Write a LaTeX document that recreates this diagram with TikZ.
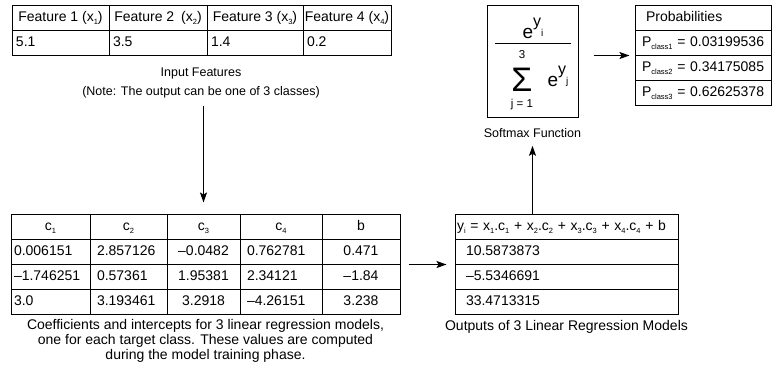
\documentclass[tikz,border=0pt]{standalone}
\usepackage{fontspec}
\setmainfont{Liberation Sans}
\usetikzlibrary{arrows.meta}

\newcommand{\lowsub}[1]{\raisebox{-3pt}{\fontsize{7.5}{8}\selectfont #1}}

\begin{document}
\begin{tikzpicture}
[every node/.style={inner sep=0pt, font=\fontsize{14}{15}\selectfont},
 cell/.style={draw, line width=1pt, minimum height=25pt, text height=11pt, text depth=3pt},
 ccell/.style={cell, minimum width=#1},
 lcell/.style 2 args={cell, text width=#1, inner xsep=#2, align=left},
 caption/.style={align=center},
 smallcap/.style={align=center, font=\fontsize{12.5}{13}\selectfont},
 arrow/.style={line width=1pt, -{Stealth[length=10pt, width=7pt, inset=2pt]}}]
\useasboundingbox (0pt, 0pt) rectangle (774pt, -376pt);

% input features
\node (fh1) [ccell=97pt] at (60.5pt, -17.5pt) {Feature 1 (x\lowsub{1})};
\node (fh2) [ccell=98pt] at (158pt, -17.5pt) {Feature 2\enspace(x\lowsub{2})};
\node (fh3) [ccell=96pt] at (255pt, -17.5pt) {Feature 3 (x\lowsub{3})};
\node (fh4) [ccell=88pt] at (347pt, -17.5pt) {Feature 4 (x\lowsub{4})};
\node (fv1) [lcell={89pt}{4pt}] at (60.5pt, -42.5pt) {5.1};
\node (fv2) [lcell={90pt}{4pt}] at (158pt, -42.5pt) {3.5};
\node (fv3) [lcell={88pt}{4pt}] at (255pt, -42.5pt) {1.4};
\node (fv4) [lcell={80pt}{4pt}] at (347pt, -42.5pt) {0.2};
\node (incap) [smallcap] at (201pt, -73pt) {Input Features};
\node (notecap) [smallcap] at (201pt, -92pt) {(Note: The output can be one of 3 classes)};

% coefficients and intercepts
\node (ch1) [ccell=79pt] at (50.5pt, -226.5pt) {c\lowsub{1}};
\node (ch2) [ccell=77pt] at (128.5pt, -226.5pt) {c\lowsub{2}};
\node (ch3) [ccell=73pt] at (203.5pt, -226.5pt) {c\lowsub{3}};
\node (ch4) [ccell=82pt] at (281pt, -226.5pt) {c\lowsub{4}};
\node (chb) [ccell=78pt] at (361pt, -226.5pt) {b};
\node (a1) [lcell={73pt}{3pt}] at (50.5pt, -251.5pt) {0.006151};
\node (a2) [lcell={63pt}{7pt}] at (128.5pt, -251.5pt) {2.857126};
\node (a3) [ccell=73pt] at (203.5pt, -251.5pt) {–0.0482};
\node (a4) [lcell={68pt}{7pt}] at (281pt, -251.5pt) {0.762781};
\node (a5) [ccell=78pt] at (361pt, -251.5pt) {0.471};
\node (b1) [lcell={73pt}{3pt}] at (50.5pt, -276.5pt) {–1.746251};
\node (b2) [lcell={63pt}{7pt}] at (128.5pt, -276.5pt) {0.57361};
\node (b3) [ccell=73pt] at (203.5pt, -276.5pt) {1.95381};
\node (b4) [lcell={68pt}{7pt}] at (281pt, -276.5pt) {2.34121};
\node (b5) [ccell=78pt] at (361pt, -276.5pt) {–1.84};
\node (d1) [lcell={73pt}{3pt}] at (50.5pt, -301.5pt) {3.0};
\node (d2) [lcell={63pt}{7pt}] at (128.5pt, -301.5pt) {3.193461};
\node (d3) [ccell=73pt] at (203.5pt, -301.5pt) {3.2918};
\node (d4) [lcell={68pt}{7pt}] at (281pt, -301.5pt) {–4.26151};
\node (d5) [ccell=78pt] at (361pt, -301.5pt) {3.238};
\node (coefcap) [caption] at (205.5pt, -341pt) {Coefficients and intercepts for 3 linear regression models,\\one for each target class. These values are computed\\during the model training phase.};

% outputs of the regressions
\node (yh) [lcell={219pt}{2pt}] at (566.5pt, -226.5pt) {\mbox{y\lowsub{i} = x\lowsub{1}.c\lowsub{1} + x\lowsub{2}.c\lowsub{2} + x\lowsub{3}.c\lowsub{3} + x\lowsub{4}.c\lowsub{4} + b}};
\node (y1) [lcell={201pt}{11pt}] at (566.5pt, -251.5pt) {10.5873873};
\node (y2) [lcell={201pt}{11pt}] at (566.5pt, -276.5pt) {–5.5346691};
\node (y3) [lcell={201pt}{11pt}] at (566.5pt, -301.5pt) {33.4713315};
\node (outcap) [caption] at (566.5pt, -327pt) {Outputs of 3 Linear Regression Models};

% softmax
\node (smx) [draw, line width=1pt, minimum width=91pt, minimum height=112pt] at (532.5pt, -61pt) {};
\node (enum) [anchor=base] at (533pt, -38pt) {{\fontsize{19}{19}\selectfont e}\raisebox{12pt}{\fontsize{16}{16}\selectfont y}\raisebox{2pt}{\fontsize{10}{10}\selectfont i}};
\draw [line width=1pt] (495pt, -43pt) -- (571pt, -43pt);
\node (top) [font=\fontsize{11.5}{12}\selectfont] at (522pt, -55pt) {3};
\node (sig) [anchor=base, font=\fontsize{34}{34}\selectfont] at (522pt, -91pt) {Σ};
\node (bot) [anchor=base, font=\fontsize{11.5}{12}\selectfont] at (522pt, -107pt) {j = 1};
\node (eden) [anchor=base] at (558pt, -86pt) {{\fontsize{19}{19}\selectfont e}\raisebox{12pt}{\fontsize{16}{16}\selectfont y}\raisebox{2pt}{\fontsize{10}{10}\selectfont j}};
\node (smxcap) [smallcap] at (532.5pt, -133pt) {Softmax Function};

% probabilities
\node (ph) [lcell={114pt}{11pt}] at (703pt, -17.5pt) {Probabilities};
\node (p1) [lcell={122pt}{7pt}] at (703pt, -42.5pt) {\mbox{P\lowsub{class1} = 0.03199536}};
\node (p2) [lcell={122pt}{7pt}] at (703pt, -67.5pt) {\mbox{P\lowsub{class2} = 0.34175085}};
\node (p3) [lcell={122pt}{7pt}] at (703pt, -92.5pt) {\mbox{P\lowsub{class3} = 0.62625378}};

\draw [arrow, shorten <=8pt, shorten >=11pt] (notecap.south -| ch3.north) -- (ch3.north);
\draw [arrow, shorten <=8pt, shorten >=8pt] (a5.south east) -- (y1.south west);
\draw [arrow, shorten >=8pt] (yh.north -| smx.south) -- (smxcap.south);
\draw [arrow, shorten <=15pt, shorten >=5pt] (smx.east |- p1.south west) -- (p1.south west);
\end{tikzpicture}
\end{document}
